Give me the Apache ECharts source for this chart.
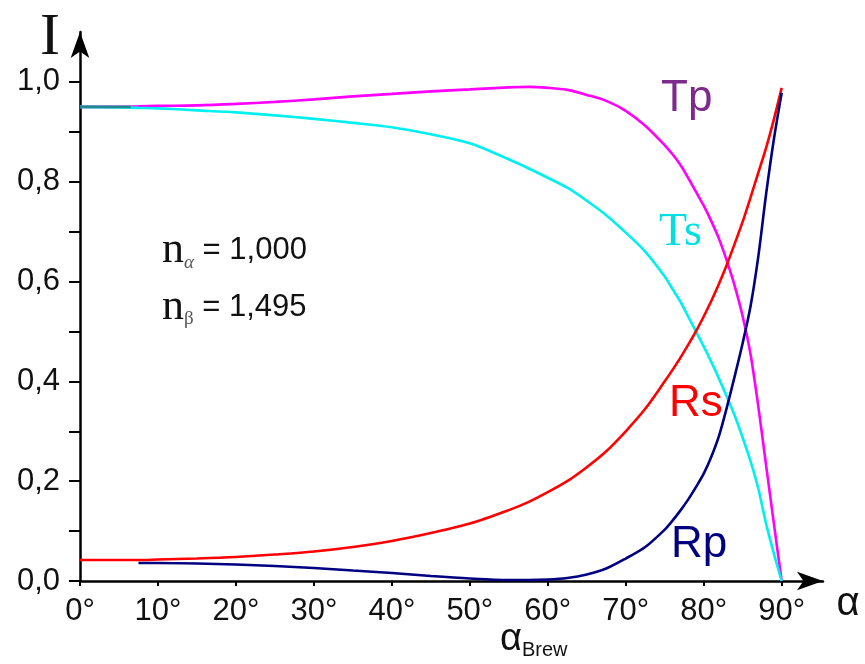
<!DOCTYPE html>
<html>
<head>
<meta charset="utf-8">
<script src="https://cdn.jsdelivr.net/npm/echarts@6/dist/echarts.min.js"></script>
<style>
html,body{margin:0;padding:0;background:#fff;}
#chart{width:865px;height:664px;}
</style>
</head>
<body>
<div id="chart"></div>
<script>
// incidence angle (degrees)
var angles = [0, 5, 7.5, 10, 15, 20, 25, 30, 35, 40, 45, 50, 55, 57.5, 60, 62.5, 65, 67.5, 70, 72.5, 75, 76, 77, 78, 79, 80, 81, 82, 83, 84, 85, 86, 87, 88, 89, 90];
// transmitted intensity, p-polarised
var tp = [0.950, 0.950, 0.951, 0.952, 0.953, 0.956, 0.960, 0.965, 0.971, 0.976, 0.981, 0.985, 0.989, 0.990, 0.988, 0.984, 0.974, 0.962, 0.942, 0.912, 0.873, 0.855, 0.834, 0.808, 0.780, 0.752, 0.720, 0.684, 0.640, 0.590, 0.530, 0.455, 0.350, 0.232, 0.115, 0.000];
// transmitted intensity, s-polarised
var ts = [0.950, 0.949, 0.948, 0.947, 0.943, 0.939, 0.933, 0.926, 0.918, 0.909, 0.895, 0.877, 0.845, 0.827, 0.808, 0.788, 0.762, 0.733, 0.698, 0.660, 0.610, 0.585, 0.560, 0.530, 0.500, 0.470, 0.438, 0.404, 0.368, 0.330, 0.287, 0.240, 0.185, 0.115, 0.055, 0.000];
// reflected intensity, s-polarised
var rs = [0.042, 0.042, 0.042, 0.043, 0.045, 0.048, 0.053, 0.059, 0.068, 0.080, 0.096, 0.115, 0.142, 0.158, 0.178, 0.200, 0.228, 0.260, 0.300, 0.345, 0.400, 0.423, 0.447, 0.473, 0.500, 0.530, 0.562, 0.597, 0.635, 0.677, 0.720, 0.768, 0.818, 0.868, 0.925, 0.988];
// reflected intensity, p-polarised (drawn from ~8 deg)
var rp = [null, null, 0.036, 0.036, 0.035, 0.033, 0.030, 0.026, 0.021, 0.016, 0.010, 0.005, 0.002, 0.002, 0.003, 0.006, 0.013, 0.025, 0.045, 0.068, 0.103, 0.121, 0.141, 0.163, 0.188, 0.215, 0.250, 0.293, 0.350, 0.412, 0.477, 0.550, 0.650, 0.775, 0.885, 0.978];
// short overlap segment where Tp and Ts coincide
var overlapAngles = [0, 6.5];
var overlapValues = [0.950, 0.950];
// tick values
var xTicks = [0, 10, 20, 30, 40, 50, 60, 70, 80, 90];
var yTicks = [0, 0.1, 0.2, 0.3, 0.4, 0.5, 0.6, 0.7, 0.8, 0.9, 1.0];
var yLabels = [0, 0.2, 0.4, 0.6, 0.8, 1.0];

function pairs(xs, ys) { return xs.map(function (x, i) { return [x, ys[i]]; }); }

var SANS = 'Liberation Sans, Arial, sans-serif';
var SERIF = 'Liberation Serif, Times New Roman, serif';

function lineSeries(name, xs, ys, color, z) {
  return {
    name: name, type: 'line', data: pairs(xs, ys), symbol: 'none',
    smooth: 0.3, connectNulls: false, z: z,
    lineStyle: { color: color, width: 2.6 }, emphasis: { disabled: true }
  };
}

var chart = echarts.init(document.getElementById('chart'), null, { renderer: 'canvas' });
chart.setOption({
  animation: false,
  backgroundColor: '#ffffff',
  grid: { left: 80, top: 32, width: 743, height: 549, containLabel: false },
  xAxis: {
    type: 'value', min: 0, max: 95.3,
    axisLine: { show: true, lineStyle: { color: '#000', width: 2.5 }, symbol: ['none', 'arrow'], symbolSize: [14, 26] },
    axisTick: { show: true, inside: false, length: 5, customValues: xTicks, lineStyle: { color: '#000', width: 2 } },
    axisLabel: { customValues: xTicks, formatter: function (v) { return v + '°'; }, fontSize: 31, fontFamily: SANS, color: '#111', margin: 15 },
    splitLine: { show: false }
  },
  yAxis: {
    type: 'value', min: 0, max: 1.1,
    axisLine: { show: true, lineStyle: { color: '#000', width: 2.5 }, symbol: ['none', 'arrow'], symbolSize: [14, 26] },
    axisTick: { show: true, inside: false, length: 11, customValues: yTicks, lineStyle: { color: '#000', width: 2 } },
    axisLabel: { customValues: yLabels, formatter: function (v) { return v.toFixed(1).replace('.', ','); }, fontSize: 31, fontFamily: SANS, color: '#111', margin: 20 },
    splitLine: { show: false }
  },
  series: [
    lineSeries('Tp', angles, tp, '#ff00ff', 3),
    lineSeries('Ts', angles, ts, '#00f0f0', 4),
    lineSeries('Rs', angles, rs, '#ff0000', 5),
    lineSeries('Rp', angles, rp, '#000080', 6),
    lineSeries('T', overlapAngles, overlapValues, '#1f8a8f', 7)
  ],
  graphic: [
    { type: 'text', style: { x: 50, y: 38, text: 'I', font: '60px ' + SERIF, fill: '#111', align: 'center', verticalAlign: 'middle' } },
    { type: 'text', style: { x: 848, y: 604, text: 'α', font: '40px ' + SANS, fill: '#111', align: 'center', verticalAlign: 'middle' } },
    { type: 'text', style: { x: 500, y: 640, text: '{a|α}{b|Brew}', align: 'left', verticalAlign: 'middle',
        rich: { a: { fontSize: 38, fontFamily: SANS, fill: '#111', lineHeight: 40, verticalAlign: 'middle' },
                b: { fontSize: 20, fontFamily: SANS, fill: '#111', lineHeight: 20, verticalAlign: 'bottom' } } } },
    { type: 'text', style: { x: 162, y: 250, text: '{n|n}{s|α}{e| = 1,000}', align: 'left', verticalAlign: 'middle',
        rich: { n: { fontSize: 44, fontFamily: SERIF, fill: '#111', lineHeight: 44, verticalAlign: 'middle' },
                s: { fontSize: 19, fontFamily: SERIF, fontStyle: 'italic', fill: '#555', lineHeight: 16, verticalAlign: 'bottom' },
                e: { fontSize: 31, fontFamily: SANS, fill: '#111', lineHeight: 44, verticalAlign: 'middle' } } } },
    { type: 'text', style: { x: 162, y: 307, text: '{n|n}{s|β}{e| = 1,495}', align: 'left', verticalAlign: 'middle',
        rich: { n: { fontSize: 44, fontFamily: SERIF, fill: '#111', lineHeight: 44, verticalAlign: 'middle' },
                s: { fontSize: 19, fontFamily: SERIF, fill: '#555', lineHeight: 16, verticalAlign: 'bottom' },
                e: { fontSize: 31, fontFamily: SANS, fill: '#111', lineHeight: 44, verticalAlign: 'middle' } } } },
    { type: 'text', style: { x: 661, y: 99, text: 'Tp', font: '44px ' + SANS, fill: '#7d2a8c', align: 'left', verticalAlign: 'middle' } },
    { type: 'text', style: { x: 659, y: 233, text: 'Ts', font: '46px ' + SERIF, fill: '#00e0e0', align: 'left', verticalAlign: 'middle' } },
    { type: 'text', style: { x: 669, y: 404, text: 'Rs', font: '44px ' + SANS, fill: '#ff0000', align: 'left', verticalAlign: 'middle' } },
    { type: 'text', style: { x: 671, y: 545, text: 'Rp', font: '44px ' + SANS, fill: '#000080', align: 'left', verticalAlign: 'middle' } }
  ]
});
</script>
</body>
</html>
